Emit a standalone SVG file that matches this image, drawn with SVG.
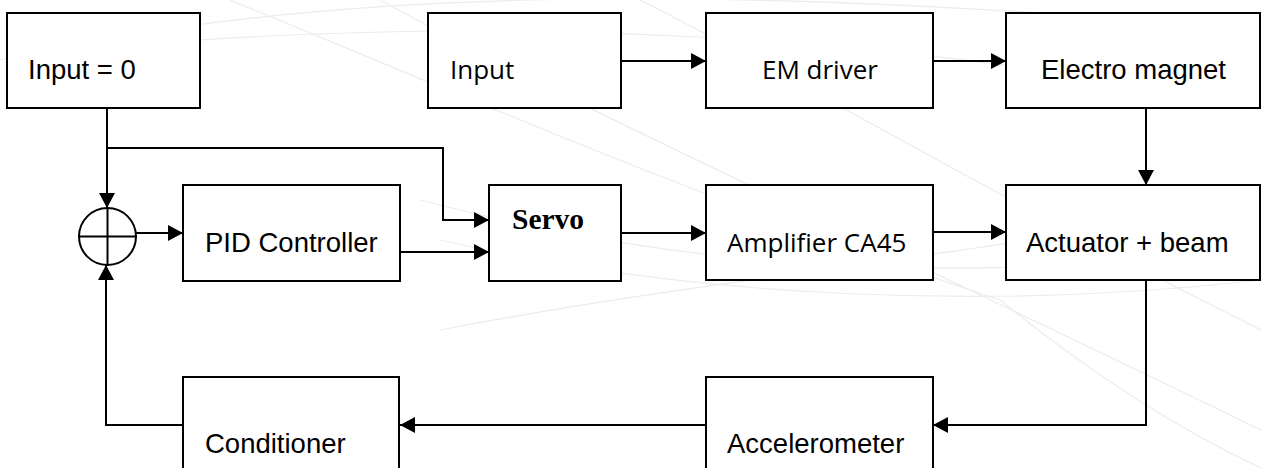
<svg xmlns="http://www.w3.org/2000/svg" width="1261" height="468" viewBox="0 0 1261 468">
<defs>
<marker id="ah" markerWidth="15" markerHeight="16" refX="15" refY="8" orient="auto" markerUnits="userSpaceOnUse">
<path d="M0,0 L15,8 L0,16 Z" fill="#000"/>
</marker>
<style>
.box{fill:#fff;stroke:#000;stroke-width:2}
.ln{fill:none;stroke:#000;stroke-width:2}
.bg{fill:none;stroke:#ececec;stroke-width:1.2}
.t1{font-family:"Liberation Sans",Arial,sans-serif;font-size:27.5px;fill:#000}
.t2{font-family:"Open Sans","DejaVu Sans",sans-serif;font-size:26px;fill:#000}
.t3{font-family:"Liberation Serif","Times New Roman",serif;font-size:29.5px;font-weight:bold;fill:#000}
</style>
</defs>
<rect width="1261" height="468" fill="#fff"/>
<g id="background">
<path class="bg" d="M0,60 C300,-10 700,-20 1261,30"/>
<path class="bg" d="M200,40 C500,20 900,30 1261,110"/>
<path class="bg" d="M230,0 C450,90 700,200 1000,300"/>
<path class="bg" d="M380,0 C600,120 850,230 1261,430"/>
<path class="bg" d="M640,0 C800,80 1000,200 1261,330"/>
<path class="bg" d="M420,200 C650,260 900,290 1261,250"/>
<path class="bg" d="M440,240 C700,300 1000,310 1261,280"/>
<path class="bg" d="M1000,300 C1100,380 1180,430 1261,468"/>
<path class="bg" d="M440,330 C700,280 950,260 1261,200"/>
</g>
<g id="connectors">
<path class="ln" d="M107,108 V208" marker-end="url(#ah)"/>
<path class="ln" d="M107,148 H443 V220 H489" marker-end="url(#ah)"/>
<path class="ln" d="M136,233 H183" marker-end="url(#ah)"/>
<path class="ln" d="M400,252 H489" marker-end="url(#ah)"/>
<path class="ln" d="M621,233 H706" marker-end="url(#ah)"/>
<path class="ln" d="M933,232 H1006" marker-end="url(#ah)"/>
<path class="ln" d="M621,61 H706" marker-end="url(#ah)"/>
<path class="ln" d="M933,61 H1006" marker-end="url(#ah)"/>
<path class="ln" d="M1146,108 V185" marker-end="url(#ah)"/>
<path class="ln" d="M1146,280 V425 H933" marker-end="url(#ah)"/>
<path class="ln" d="M706,425 H400" marker-end="url(#ah)"/>
<path class="ln" d="M183,425 H106 V265" marker-end="url(#ah)"/>
</g>
<g id="sum">
<circle cx="107.5" cy="236.5" r="28.5" class="box"/>
<path class="ln" d="M79,236.5 H136 M107.5,208 V265"/>
</g>
<g id="input0"><rect class="box" x="7" y="13" width="193" height="95"/><text class="t1" x="28" y="79">Input = 0</text></g>
<g id="input"><rect class="box" x="428" y="13" width="193" height="95"/><text class="t2" x="450" y="79">Input</text></g>
<g id="emdriver"><rect class="box" x="706" y="13" width="227" height="95"/><text class="t2" x="762" y="79">EM driver</text></g>
<g id="electromagnet"><rect class="box" x="1006" y="13" width="254" height="95"/><text class="t1" x="1041" y="79">Electro magnet</text></g>
<g id="pid"><rect class="box" x="183" y="185" width="217" height="96"/><text class="t1" x="205" y="252">PID Controller</text></g>
<g id="servo"><rect class="box" x="489" y="185" width="132" height="96"/><text class="t3" x="512" y="229">Servo</text></g>
<g id="amplifier"><rect class="box" x="706" y="185" width="227" height="95"/><text class="t2" x="727" y="252">Amplifier CA45</text></g>
<g id="actuator"><rect class="box" x="1006" y="185" width="254" height="95"/><text class="t1" x="1026" y="252">Actuator + beam</text></g>
<g id="conditioner"><rect class="box" x="183" y="377" width="216" height="100"/><text class="t1" x="205" y="453">Conditioner</text></g>
<g id="accelerometer"><rect class="box" x="706" y="377" width="227" height="100"/><text class="t1" x="727" y="453">Accelerometer</text></g>
</svg>
